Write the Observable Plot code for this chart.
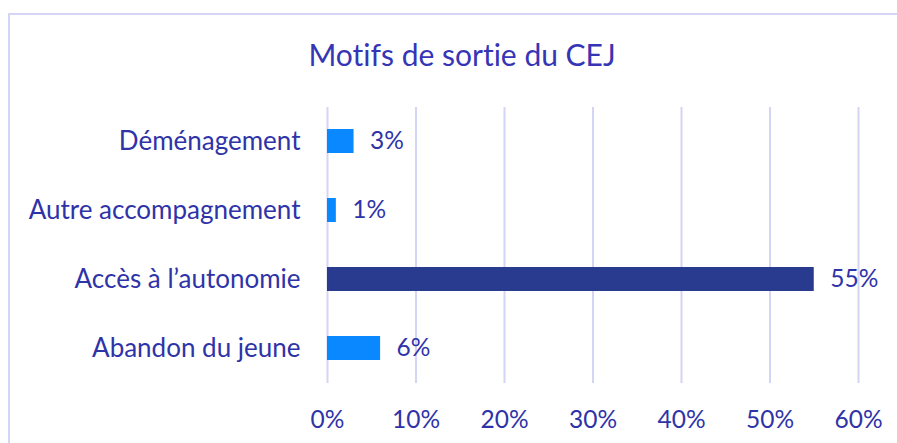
<!DOCTYPE html>
<html>
<head>
<meta charset="utf-8">
<script src="https://cdn.jsdelivr.net/npm/d3@7"></script>
<script src="https://cdn.jsdelivr.net/npm/@observablehq/plot@0.6"></script>
<style>
  html, body { margin: 0; padding: 0; background: #fff; overflow: hidden; }
  #wrap { position: relative; width: 897px; height: 443px; overflow: hidden; }
  #border { position: absolute; left: 8px; top: 13px; width: 950px; height: 500px; border: 2px solid #d4d4f5; box-sizing: border-box; }
  #chart { position: absolute; left: 0; top: 0; }
  svg text { font-variant-ligatures: none; font-feature-settings: "liga" 0; }
</style>
</head>
<body>
<div id="wrap"><div id="border"></div><div id="chart"></div></div>
<script>
const title = "Motifs de sortie du CEJ";
const categories = ["Déménagement", "Autre accompagnement", "Accès à l’autonomie", "Abandon du jeune"];
const values = [0.03, 0.01, 0.55, 0.06];
const highlight = [false, false, true, false];
const xTicks = [0, 0.1, 0.2, 0.3, 0.4, 0.5, 0.6];

const data = categories.map((c, i) => ({cat: c, v: values[i], hi: highlight[i]}));
const textColor = "#2f33a8";
const fontFamily = "Lato, 'Noto Sans', sans-serif";
const pct = d3.format(".0%");

const plot = Plot.plot({
  width: 897,
  height: 443,
  marginLeft: 327,
  marginRight: 39,
  marginTop: 107,
  marginBottom: 60,
  style: {fontFamily, fontSize: "24px", color: textColor, background: "transparent"},
  x: {domain: [0, 0.6], label: null},
  y: {domain: categories, paddingInner: 0.65, paddingOuter: 0.325, label: null},
  marks: [
    Plot.ruleX(xTicks, {stroke: "#d4d4f5", strokeWidth: 2}),
    Plot.barX(data, {y: "cat", x: "v", fill: d => d.hi ? "#293b8e" : "#0a88ff"}),
    Plot.text(data, {y: "cat", x: "v", text: d => pct(d.v), textAnchor: "start", dx: 16, fill: textColor, fontSize: 24.5}),
    Plot.axisX({ticks: xTicks, tickFormat: pct, tickSize: 0, tickPadding: 27, fontSize: 24.5, anchor: "bottom", label: null}),
    Plot.axisY({tickSize: 0, tickPadding: 27, fontSize: 26, anchor: "left", label: null}),
    Plot.text([title], {frameAnchor: "top", dx: -131, dy: -63, fontSize: 30, fill: "#3535b5"})
  ]
});
document.getElementById("chart").appendChild(plot);
</script>
</body>
</html>
